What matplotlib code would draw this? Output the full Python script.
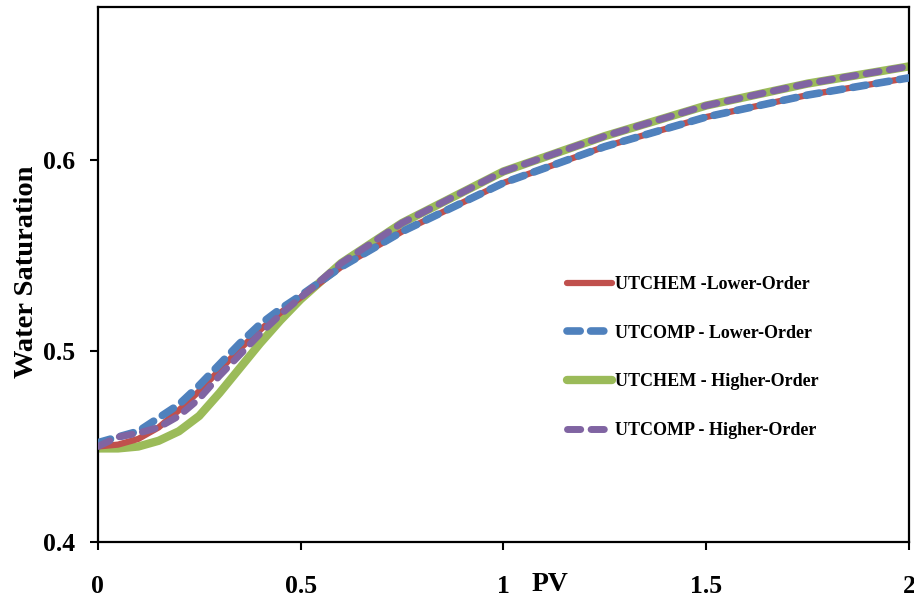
import matplotlib
matplotlib.use("Agg")
import matplotlib.pyplot as plt

plt.rcParams['font.family'] = ['Liberation Serif', 'DejaVu Serif']
plt.rcParams['font.weight'] = 'bold'
plt.rcParams['lines.scale_dashes'] = False

# values
pv = [0, 0.05, 0.1, 0.15, 0.2, 0.25, 0.3, 0.35, 0.4, 0.45, 0.5, 0.6, 0.75, 1.0, 1.25, 1.5, 1.75, 2.0]
utchem_low = [0.450, 0.451, 0.454, 0.460, 0.469, 0.479, 0.490, 0.501, 0.511, 0.520, 0.528,
              0.544, 0.5625, 0.588, 0.607, 0.6225, 0.634, 0.643]
utcomp_low = [0.452, 0.455, 0.458, 0.465, 0.472, 0.482, 0.493, 0.504, 0.514, 0.522, 0.529,
              0.544, 0.5625, 0.588, 0.607, 0.6225, 0.634, 0.643]
utchem_high = [0.449, 0.449, 0.450, 0.453, 0.458, 0.466, 0.478, 0.491, 0.504, 0.516, 0.527,
               0.546, 0.567, 0.594, 0.6125, 0.6285, 0.640, 0.649]
utcomp_high = [0.450, 0.455, 0.457, 0.460, 0.466, 0.475, 0.487, 0.498, 0.509, 0.519, 0.528,
               0.546, 0.567, 0.594, 0.6125, 0.6285, 0.640, 0.649]

labels = ['UTCHEM -Lower-Order', 'UTCOMP - Lower-Order',
          'UTCHEM - Higher-Order', 'UTCOMP - Higher-Order']

fig = plt.figure(figsize=(9.14, 5.98), dpi=100)
ax = fig.add_axes([0.107, 0.0936, 0.8875, 0.8944])

dash = (9.5, 7.5)
ax.plot(pv, utchem_low, color='#C0504D', lw=4.5, solid_capstyle='round', label=labels[0], zorder=2)
ax.plot(pv, utcomp_low, color='#4F81BD', lw=5.5, dashes=dash, dash_capstyle='round',
        label=labels[1], zorder=3)
ax.plot(pv, utchem_high, color='#9BBB59', lw=6, solid_capstyle='round', label=labels[2], zorder=1)
ax.plot(pv, utcomp_high, color='#8064A2', lw=5, dashes=dash, dash_capstyle='round',
        label=labels[3], zorder=4)

ax.set_xlim(0, 2)
ax.set_ylim(0.4, 0.68)
ax.set_xticks([0, 0.5, 1, 1.5, 2])
ax.set_xticklabels(['0', '0.5', '1', '1.5', '2'])
ax.set_yticks([0.4, 0.5, 0.6])
ax.set_yticklabels(['0.4', '0.5', '0.6'])
ax.tick_params(direction='out', length=6, width=1.5, labelsize=18.5)
ax.tick_params(axis='y', pad=10)
ax.tick_params(axis='x', pad=18)
for s in ax.spines.values():
    s.set_linewidth(1.6)
    s.set_color('black')

ax.text(1.115, -0.08, 'PV', transform=ax.get_xaxis_transform(), fontsize=20,
        fontweight='bold', ha='center', va='center')
ax.set_ylabel('Water Saturation', fontsize=20.5, fontweight='bold')
ax.yaxis.set_label_coords(-0.072, 0.505)

ax.legend(loc='upper left', bbox_to_anchor=(0.578, 0.497), frameon=False, fontsize=13,
          handlelength=2.5, handletextpad=0.15, labelspacing=1.75, borderpad=0, borderaxespad=0)

fig.savefig('out.png', dpi=100)
